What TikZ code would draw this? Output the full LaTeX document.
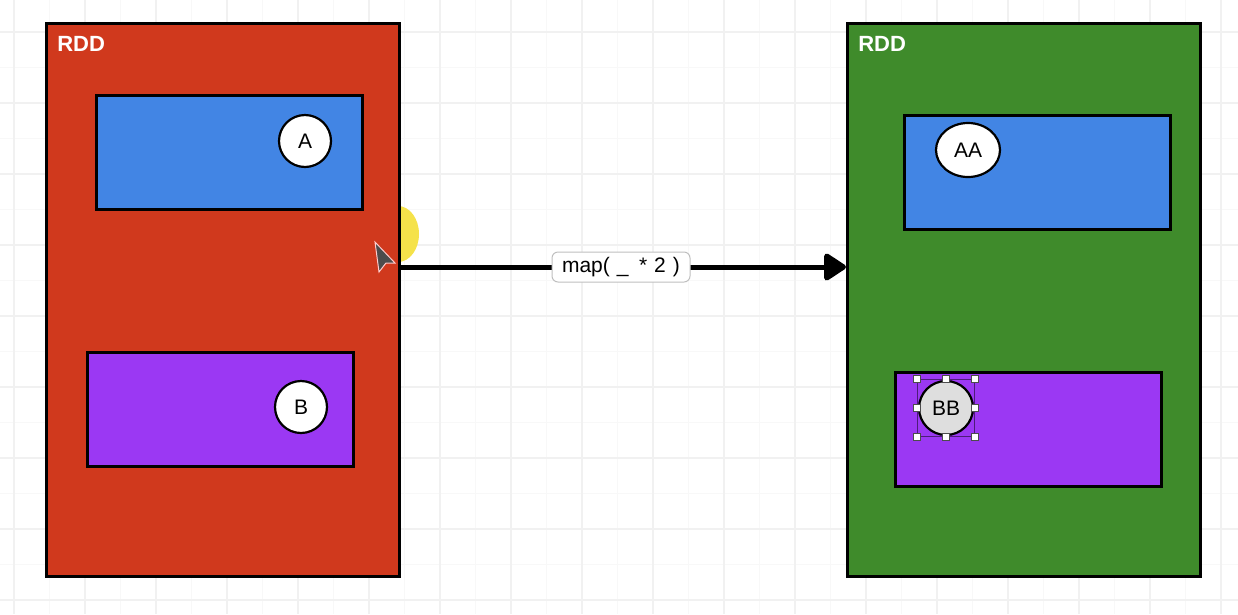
\documentclass[tikz,border=0pt]{standalone}
\usepackage{fontspec}
\setmainfont{Liberation Sans}
\usetikzlibrary{positioning, arrows.meta, shapes.geometric}

\definecolor{rddred}{HTML}{D0391D}
\definecolor{rddgreen}{HTML}{3F8B2B}
\definecolor{partblue}{HTML}{4285E4}
\definecolor{partpurple}{HTML}{9B38F3}
\definecolor{clickyellow}{HTML}{F5E24A}
\definecolor{gridline}{HTML}{F1F1F1}

\begin{document}
\begin{tikzpicture}[x=1pt, y=-1pt, semithick,
    rdd/.style={draw=black, line width=3pt, anchor=north west, inner sep=0pt,
        minimum width=353pt, minimum height=553pt},
    part/.style={draw=black, line width=2.5pt, anchor=north west, inner sep=0pt,
        minimum width=266pt, minimum height=114pt},
    elem/.style={circle, draw=black, line width=2.2pt, fill=white, inner sep=0pt,
        minimum size=52pt, font=\fontsize{21}{24}\selectfont},
    tag/.style={text=white, anchor=west, inner sep=0pt,
        font=\bfseries\fontsize{22}{24}\selectfont},
    handle/.style={rectangle, draw=black!70, fill=white, line width=0.8pt,
        inner sep=0pt, minimum size=7.5pt}]
    \useasboundingbox (0,0) rectangle (1238,614);
    \fill[white] (0,0) rectangle (1238,614);
    % grid
    \foreach \x in {-21.5,14,...,1238} \draw[gridline!50, line width=0.8pt] (\x,0) -- (\x,614);
    \foreach \y in {-3.5,32,...,614} \draw[gridline!50, line width=0.8pt] (0,\y) -- (1238,\y);
    \foreach \x in {14,85,...,1238} \draw[gridline, line width=1.5pt] (\x,0) -- (\x,614);
    \foreach \y in {32,103,...,614} \draw[gridline, line width=1.5pt] (0,\y) -- (1238,\y);

    % click mark
    \fill[clickyellow] (398,234) ellipse [x radius=21, y radius=28];

    % left rdd
    \node[rdd, fill=rddred] (red) at (45,22) {};
    \node[tag] (redtag) at (57,44) {RDD};
    \node[part, fill=partblue] (redA) at (95,94) {};
    \node[elem] (a) at (305,141) {A};
    \node[part, fill=partpurple] (redB) at (86,351) {};
    \node[elem] (b) at (301,407) {B};

    % right rdd
    \node[rdd, fill=rddgreen] (green) at (846,22) {};
    \node[tag] (greentag) at (858,44) {RDD};
    \node[part, fill=partblue] (greenA) at (903,114) {};
    \node[elem, ellipse, minimum width=64pt, minimum height=54pt] (aa) at (968,150) {AA};
    \node[part, fill=partpurple] (greenB) at (894,371) {};
    \node[elem, fill=black!13, minimum size=54pt] (bb) at (946,408) {BB};
    \node[draw=partpurple!50!black, line width=0.8pt, inner sep=0pt, minimum size=57pt] (sel) at (bb) {};
    \foreach \a in {north west, north, north east, east, south east, south, south west, west}
        \node[handle] at (sel.\a) {};

    % map
    \coordinate (mid) at (621,267);
    \draw[line width=5pt, -{Triangle[length=24pt, width=30pt, round]}] (red.east |- mid) -- (green.west |- mid);
    \node[draw=black!25, fill=white, line width=1pt, rounded corners=6pt, inner sep=0pt,
        minimum width=138pt, minimum height=30pt, font=\fontsize{21}{24}\selectfont] (lbl) at (mid)
        {map(\,\,\_\,\,\,*\,\,2\,\,)};

    % cursor
    \filldraw[fill=black!70, draw=white!80!red, line width=1pt]
        (375,242) -- (395,263) -- (386,263) -- (379,272) -- cycle;
\end{tikzpicture}
\end{document}
